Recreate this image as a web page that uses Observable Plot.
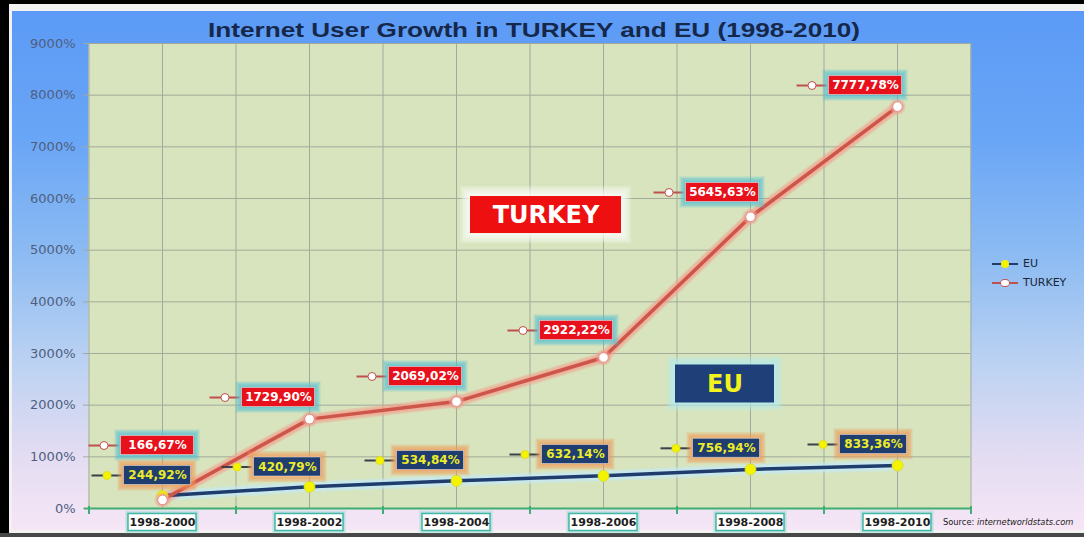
<!DOCTYPE html>
<html><head><meta charset="utf-8">
<script src="https://cdn.jsdelivr.net/npm/d3@7"></script>
<script src="https://cdn.jsdelivr.net/npm/@observablehq/plot@0.6"></script>
<style>
body{margin:0;background:#fff;}
#wrap{position:relative;width:1084px;height:537px;overflow:hidden;background:#474747;}
#black{position:absolute;left:0;top:0;width:1084px;height:533px;background:#000;}
#white{position:absolute;left:9px;top:4px;width:1075px;height:529px;background:#f2f2f2;}
#grad{position:absolute;left:12px;top:11px;width:1072px;height:519px;
  background:linear-gradient(180deg,#5b9af6 0%,#6aa6f6 25%,#8ebcf2 48%,#bcd2f2 68%,#e2dcf2 85%,#f6e6f6 100%);}
#chart{position:absolute;left:0;top:0;}
#title{position:absolute;left:534px;top:18px;font:bold 21px "Liberation Sans",Arial,sans-serif;color:#16284a;white-space:nowrap;transform-origin:0 0;}
#legend{position:absolute;left:990px;top:254px;font:11px "DejaVu Sans",sans-serif;color:#1a2638;}
#legend div{display:flex;align-items:center;height:19px;}
#legend svg{margin-right:3px;}
#source{position:absolute;left:943px;top:517px;font:8.3px "DejaVu Sans",sans-serif;color:#222;white-space:nowrap;}
</style></head>
<body>
<div id="wrap">
  <div id="black"></div><div id="white"></div><div id="grad"></div>
  <div id="chart"></div>
  <div id="title">Internet User Growth in TURKEY and EU (1998-2010)</div>
  <div id="legend">
    <div><svg width="30" height="10"><line x1="2" y1="5" x2="28" y2="5" stroke="#1f3c6c" stroke-width="2"/><circle cx="15" cy="5" r="4" fill="#f4f400"/></svg>EU</div>
    <div><svg width="30" height="10"><line x1="2" y1="5" x2="28" y2="5" stroke="#c0504d" stroke-width="2"/><ellipse cx="15" cy="5" rx="4.5" ry="3.5" fill="#fff" stroke="#c0504d" stroke-width="1"/></svg>TURKEY</div>
  </div>
  <div id="source">Source: <i>internetworldstats.com</i></div>
</div>
<script>
// ---- data ----
const periods = ["1998-2000","1998-2002","1998-2004","1998-2006","1998-2008","1998-2010"];
const turkey = [166.67, 1729.90, 2069.02, 2922.22, 5645.63, 7777.78];
const eu = [244.92, 420.79, 534.84, 632.14, 756.94, 833.36];
const yTicks = [0,1000,2000,3000,4000,5000,6000,7000,8000,9000];

// ---- callout placement ----
const trCallY = [1219, 2148, 2555, 3445, 6116, 8187];
const euCallY = [639, 803, 929, 1045, 1165, 1239];
const trCallDx = [-5, -31, -31, -27, -28, -32];
const euCallDx = [-5, -22, -26, -28, -24, -24];

const W = 1084, H = 537, mL = 88, mR = 114, mT = 43, mB = 29;
const step = (W - mL - mR) / periods.length;
const fmt = v => d3.format(".2f")(v).replace(".", ",") + "%";
const rows = periods.map((p, i) => ({p, tr: turkey[i], eu: eu[i]}));
const FONT = "DejaVu Sans";

// soft glow made from stacked translucent rectangles around a box of half-size hw x hh
function glowBox(data, o, hw, hh, color, spread, layers, opacity) {
  const out = [];
  for (let k = layers; k >= 1; k--) {
    const g = spread * k / layers;
    out.push(Plot.rect(data, {...o, insetLeft: -(hw + g), insetRight: -(hw + g), insetTop: -(hh + g), insetBottom: -(hh + g),
      fill: color, fillOpacity: opacity}));
  }
  return out;
}
function box(data, o, hw, hh, fill, extra = {}) {
  return Plot.rect(data, {...o, insetLeft: -hw, insetRight: -hw, insetTop: -hh, insetBottom: -hh, fill, ...extra});
}
function glowLine(data, o, color, base, spread, layers, opacity) {
  const out = [];
  for (let k = layers; k >= 1; k--) {
    out.push(Plot.line(data, {...o, stroke: color, strokeWidth: base + 2 * spread * k / layers, strokeOpacity: opacity}));
  }
  return out;
}

const marks = [
  Plot.frame({fill: "#d7e4bd", stroke: null}),
  Plot.ruleY(yTicks, {insetLeft: -5, stroke: "#a3aa9c", strokeWidth: 1}),
  Plot.ruleX(periods, {stroke: "#a3aa9c", strokeWidth: 1}),
  Plot.ruleX(periods, {stroke: "#a3aa9c", strokeWidth: 1, dx: -step / 2}),
  Plot.ruleX(periods.slice(-1), {stroke: "#a3aa9c", strokeWidth: 1, dx: step / 2}),
  Plot.text(yTicks, {y: d => d, text: d => d + "%", frameAnchor: "left", dx: -13, textAnchor: "end",
    fill: "#4f5e80", fontSize: 13, fontFamily: FONT}),
  // x axis (green)
  Plot.ruleY([0], {stroke: "#3fae72", strokeWidth: 2, insetLeft: -4}),
  Plot.ruleX(periods, {y1: 0, y2: 0, dx: -step / 2, insetTop: -2, insetBottom: -6, stroke: "#3fae72", strokeWidth: 2}),
  Plot.ruleX(periods.slice(-1), {y1: 0, y2: 0, dx: step / 2, insetTop: -2, insetBottom: -6, stroke: "#3fae72", strokeWidth: 2}),
];
// x tick label boxes
{
  const o = {x1: d => d, x2: d => d, y1: 0, y2: 0, dy: 14};
  marks.push(...glowBox(periods, o, 34, 8.5, "#7fd6c8", 3, 3, 0.25));
  marks.push(box(periods, o, 34, 8.5, "#ffffff", {stroke: "#43b7a8", strokeWidth: 1.5}));
  marks.push(Plot.text(periods, {x: d => d, y: 0, dy: 14, text: d => d, fontSize: 11, fontWeight: "bold", fontFamily: FONT, fill: "#1e1e1e"}));
}
// big series labels
{
  const o1 = {x1: () => "1998-2006", x2: () => "1998-2006", y1: () => 5680, y2: () => 5680, dx: -57.5};
  marks.push(...glowBox(["TURKEY"], o1, 75.5, 18.5, "#ffffff", 10, 6, 0.22));
  marks.push(box(["TURKEY"], o1, 75.5, 18.5, "#ee1010"));
  marks.push(Plot.text(["TURKEY"], {x: () => "1998-2006", y: () => 5680, dx: -57.5, text: d => d, fill: "#ffffff",
    fontSize: 24, fontWeight: "bold", fontFamily: FONT}));
  const o2 = {x1: () => "1998-2008", x2: () => "1998-2008", y1: () => 2410, y2: () => 2410, dx: -25.5};
  marks.push(...glowBox(["EU"], o2, 49.5, 19, "#b0ecf8", 8, 5, 0.22));
  marks.push(box(["EU"], o2, 49.5, 19, "#1f3f78"));
  marks.push(Plot.text(["EU"], {x: () => "1998-2008", y: () => 2410, dx: -25.5, text: d => d, fill: "#f2f21e",
    fontSize: 24, fontWeight: "bold", fontFamily: FONT}));
}
// lines with glow
marks.push(
  ...glowLine(rows, {x: "p", y: "eu"}, "#c4ecff", 3.5, 4, 4, 0.3),
  ...glowLine(rows, {x: "p", y: "tr"}, "#f5a090", 3.5, 4, 4, 0.3),
  Plot.line(rows, {x: "p", y: "eu", stroke: "#1f3c6c", strokeWidth: 3.5}),
  Plot.line(rows, {x: "p", y: "tr", stroke: "#cd5549", strokeWidth: 3.5}),
  Plot.dot(rows, {x: "p", y: "eu", r: 5.5, fill: "#f4f400", stroke: "#d8d830", strokeWidth: 0.8}),
  Plot.dot(rows, {x: "p", y: "tr", r: 8, fill: "#f0a090", fillOpacity: 0.35, stroke: null}),
  Plot.dot(rows, {x: "p", y: "tr", r: 6.5, fill: "#f0a090", fillOpacity: 0.5, stroke: null}),
  Plot.dot(rows, {x: "p", y: "tr", r: 4.8, fill: "#ffffff", stroke: "#e09088", strokeWidth: 1})
);

function callouts(values, callY, callDx, w, boxFill, txtFill, glowFill, segStroke, dotFill, dotStroke) {
  values.forEach((v, i) => {
    const d = [{p: periods[i], v, cy: callY[i]}];
    const mdx = callDx[i] - w / 2 - 17;
    const o = {x1: "p", x2: "p", y1: "cy", y2: "cy", dx: callDx[i]};
    marks.push(
      Plot.ruleY(d, {x1: "p", x2: "p", y: "cy", insetLeft: -15, insetRight: -15, dx: mdx, stroke: segStroke, strokeWidth: 2}),
      Plot.dot(d, {x: "p", y: "cy", dx: mdx, r: 4, fill: dotFill, stroke: dotStroke, strokeWidth: 1}),
      ...glowBox(d, o, w / 2, 9.5, glowFill, 6, 4, 0.28),
      box(d, o, w / 2, 9.5, boxFill, {stroke: "#ffffff", strokeOpacity: 0.45, strokeWidth: 1}),
      Plot.text(d, {x: "p", y: "cy", dx: callDx[i], text: e => fmt(e.v), fill: txtFill, fontSize: 12,
        fontWeight: "bold", fontFamily: FONT})
    );
  });
}
callouts(turkey, trCallY, trCallDx, 73, "#e8101a", "#ffffff", "#4fc0d4", "#c0504d", "#ffffff", "#c0504d");
callouts(eu, euCallY, euCallDx, 67, "#1f3d6e", "#ecec2a", "#f29a56", "#3a3f4a", "#f4f400", "#e0e020");

const chart = Plot.plot({
  width: W, height: H,
  marginLeft: mL, marginRight: mR, marginTop: mT, marginBottom: mB,
  x: {type: "point", domain: periods, padding: 0.5, axis: null},
  y: {domain: [0, 9000], axis: null},
  style: {background: "transparent", overflow: "visible"},
  marks
});
document.getElementById("chart").appendChild(chart);

// stretch the title to the reference's width (652px) centred at x=534
const t = document.getElementById("title");
const tw = t.getBoundingClientRect().width;
t.style.transform = `translateX(-326px) scaleX(${652 / tw})`;
</script>
</body></html>
